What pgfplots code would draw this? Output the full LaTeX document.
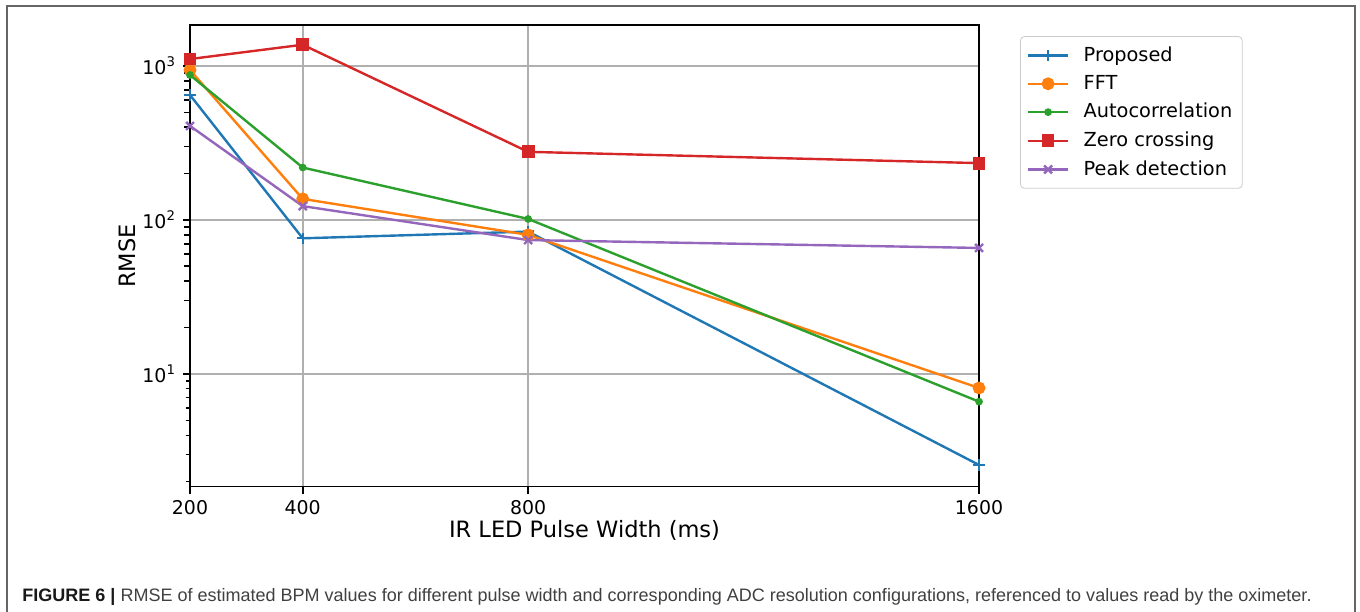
\documentclass[border=0pt]{standalone}
\usepackage{fontspec}
\setmainfont{DejaVu Sans}
\newfontfamily\capfont{Liberation Sans}
\usepackage{pgfplots}
\pgfplotsset{compat=1.18}
\definecolor{cblue}{HTML}{1F77B4}
\definecolor{corange}{HTML}{FF7F0E}
\definecolor{cgreen}{HTML}{2CA02C}
\definecolor{cred}{HTML}{D62728}
\definecolor{cpurple}{HTML}{9467BD}
\definecolor{gridgray}{HTML}{B0B0B0}

\begin{document}
\begin{tikzpicture}[x=0.5bp,y=0.5bp]
% page in pixel units of the reference (origin bottom left)
\path[use as bounding box] (0,0) rectangle (1360,612);
\draw[black!60, line width=0.8bp] (7,0) -- (7,606) -- (1355,606) -- (1355,0);

\begin{axis}[
  at={(95bp,62.65bp)}, anchor=south west,
  width=394.5bp, height=230.8bp, scale only axis,
  xmin=200, xmax=1600,
  ymode=log, ymin=1.85, ymax=1845,
  xtick={200,400,800,1600}, xticklabels={200,400,800,1600},
  ytick={10,100,1000},
  yticklabels={10\textsuperscript{1},10\textsuperscript{2},10\textsuperscript{3}},
  extra y ticks={2,3,4,5,6,7,8,9,20,30,40,50,60,70,80,90,200,300,400,500,600,700,800,900},
  extra y tick labels={},
  extra y tick style={grid=none, major tick length=2bp,
    every tick/.style={black, line width=0.6bp}},
  grid=major, major grid style={gridgray, line width=0.8bp},
  tick align=outside, tick pos=left,
  major tick length=3.5bp,
  every tick/.style={black, line width=0.8bp},
  axis line style={line width=0.8bp},
  /pgf/number format/assume math mode=true,
  tick label style={font=\fontsize{9.5}{11}\selectfont},
  label style={font=\fontsize{11.3}{13}\selectfont},
  xlabel={IR LED Pulse Width (ms)},
  ylabel={RMSE},
  xlabel style={at={(axis description cs:0.5,-0.095)}, anchor=center},
  ylabel style={at={(axis description cs:-0.08,0.5)}, anchor=center},
  legend style={at={(axis description cs:1.052,0.976)}, anchor=north west,
    draw=black!20, rounded corners=2bp, font=\fontsize{9.7}{12}\selectfont,
    nodes={inner sep=2bp}, row sep=1.5bp, column sep=5bp,
    inner xsep=3bp, inner ysep=3bp},
  legend cell align=left,
  legend image code/.code={\draw[mark repeat=2, mark phase=2]
    plot coordinates {(0cm,0cm) (0.36cm,0cm) (0.72cm,0cm)};},
  every axis plot/.append style={line width=1.2bp},
  clip=false]
\addplot[cblue, mark=+, mark size=2.8bp] coordinates
  {(200,648) (400,76) (800,84) (1600,2.56)};
\addlegendentry{Proposed}
\addplot[corange, mark=*, mark size=2.6bp] coordinates
  {(200,942) (400,137) (800,80) (1600,8.1)};
\addlegendentry{FFT}
\addplot[cgreen, mark=*, mark size=1.3bp] coordinates
  {(200,874) (400,219) (800,101.5) (1600,6.6)};
\addlegendentry{Autocorrelation}
\addplot[cred, mark=square*, mark size=2.6bp] coordinates
  {(200,1110) (400,1375) (800,277) (1600,234)};
\addlegendentry{Zero crossing}
\addplot[cpurple, mark=x, mark size=2.8bp] coordinates
  {(200,408) (400,123) (800,74) (1600,65.8)};
\addlegendentry{Peak detection}
\end{axis}

\node[anchor=base west, inner sep=0, text=black!75,
  font=\capfont\fontsize{9.04}{11}\selectfont] at (22,10)
  {\textbf{\color{black!90}FIGURE 6 |} RMSE of estimated BPM values for different pulse width and corresponding ADC resolution configurations, referenced to values read by the oximeter.};
\end{tikzpicture}
\end{document}
